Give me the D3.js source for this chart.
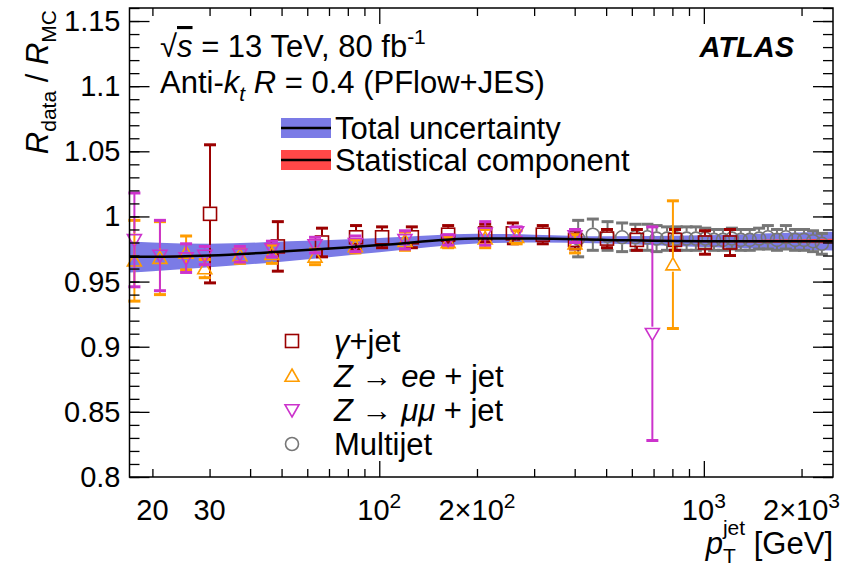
<!DOCTYPE html>
<html>
<head>
<meta charset="utf-8">
<script src="https://cdn.jsdelivr.net/npm/d3@7"></script>
<style>
  body { margin: 0; background: #fff; }
  svg { font-family: "Liberation Sans", Arial, sans-serif; }
</style>
</head>
<body>
<svg width="842" height="568"></svg>
<script>
// Band: fitted calibration curve with total / statistical uncertainty
const bandPt = [17, 20, 30, 50, 100, 200, 300, 500, 1000, 1500, 2500];
const bandCentre = [0.969, 0.969, 0.970, 0.973, 0.978, 0.983, 0.983, 0.982, 0.981, 0.981, 0.981];
const bandTotal = [0.012, 0.011, 0.009, 0.0077, 0.0055, 0.0038, 0.003, 0.0028, 0.0045, 0.0058, 0.0072];
const bandStat = [0.0006, 0.0006, 0.0005, 0.0005, 0.0004, 0.0004, 0.0004, 0.0005, 0.0008, 0.0012, 0.0018];

// gamma + jet
const gjPt = [30.1, 48.7, 66.6, 84.8, 102, 126, 163, 212, 258, 319, 401, 503, 622, 815, 1008, 1204];
const gjVal = [1.002, 0.977, 0.980, 0.984, 0.984, 0.984, 0.986, 0.987, 0.987, 0.986, 0.982, 0.983, 0.982, 0.982, 0.980, 0.980];
const gjErr = [0.053, 0.019, 0.011, 0.009, 0.008, 0.008, 0.007, 0.007, 0.008, 0.007, 0.007, 0.007, 0.008, 0.008, 0.009, 0.010];

// Z -> ee + jet
const zeePt = [17.6, 21.1, 25.4, 29.0, 37.2, 46.7, 63.4, 84.4, 120, 163, 212, 265, 401, 803];
const zeeVal = [0.966, 0.968, 0.972, 0.960, 0.970, 0.971, 0.969, 0.977, 0.981, 0.980, 0.983, 0.984, 0.979, 0.963];
const zeeErr = [0.031, 0.028, 0.013, 0.007, 0.006, 0.007, 0.006, 0.005, 0.007, 0.004, 0.007, 0.005, 0.007, 0.049];

// Z -> mumu + jet
const zmmPt = [17.6, 21.1, 25.4, 29.0, 37.2, 46.7, 63.4, 84.4, 120, 163, 212, 265, 401, 694];
const zmmVal = [0.982, 0.970, 0.968, 0.970, 0.971, 0.975, 0.978, 0.979, 0.982, 0.982, 0.987, 0.988, 0.985, 0.910];
const zmmErr = [0.036, 0.027, 0.011, 0.007, 0.006, 0.006, 0.006, 0.006, 0.007, 0.004, 0.009, 0.004, 0.005, 0.082];

// Multijet
const mjPt = [410, 455, 505, 560, 615, 670, 715, 770, 825, 885, 945, 1010, 1075, 1145, 1220, 1300, 1385, 1480, 1575, 1680, 1790, 1910, 2035, 2170, 2310];
const mjVal = [0.983, 0.986, 0.985, 0.984, 0.984, 0.984, 0.983, 0.983, 0.983, 0.983, 0.983, 0.983, 0.982, 0.982, 0.983, 0.982, 0.982, 0.983, 0.984, 0.982, 0.984, 0.982, 0.982, 0.981, 0.979];
const mjErr = [0.014, 0.012, 0.011, 0.011, 0.010, 0.010, 0.010, 0.009, 0.009, 0.009, 0.009, 0.008, 0.008, 0.008, 0.008, 0.008, 0.008, 0.008, 0.009, 0.008, 0.009, 0.008, 0.008, 0.008, 0.008];

// Axis ticks
const xTickVals = [20, 30, 100, 200, 1000, 2000];
const xTickLabels = [["20", ""], ["30", ""], ["10", "2"], ["2\u00d710", "2"], ["10", "3"], ["2\u00d710", "3"]];
const yTickVals = [0.8, 0.85, 0.9, 0.95, 1.0, 1.05, 1.1, 1.15];
const yTickLabels = ["0.8", "0.85", "0.9", "0.95", "1", "1.05", "1.1", "1.15"];

const svg = d3.select("svg");
const plotL = 129.5, plotR = 833, plotT = 8, plotB = 477;
const x = d3.scaleLog().domain([17, 2500]).range([plotL, plotR]);
const y = d3.scaleLinear().domain([0.8, 1.16]).range([plotB, plotT]);

const fs = 31, fsTick = 29, fsSub = 21;

// bands
const idx = d3.range(bandPt.length);
svg.append("path")
    .attr("d", d3.area().curve(d3.curveMonotoneX)
        .x(i => x(bandPt[i])).y0(i => y(bandCentre[i] - bandTotal[i])).y1(i => y(bandCentre[i] + bandTotal[i]))(idx))
    .attr("fill", "#7b7be6");
svg.append("path")
    .attr("d", d3.area().curve(d3.curveMonotoneX)
        .x(i => x(bandPt[i])).y0(i => y(bandCentre[i] - bandStat[i])).y1(i => y(bandCentre[i] + bandStat[i]))(idx))
    .attr("fill", "#ff4848");

// data points
function drawSeries(pts, vals, errs, color, shape) {
    const g = svg.append("g").attr("stroke", color).attr("fill", "none").attr("stroke-width", 2);
    const half = 7;
    pts.forEach((p, i) => {
        const cx = x(p), cy = y(vals[i]);
        const yHi = y(vals[i] + errs[i]), yLo = y(vals[i] - errs[i]);
        if (yHi < cy - half) g.append("line").attr("x1", cx).attr("x2", cx).attr("y1", yHi).attr("y2", cy - half);
        if (yLo > cy + half) g.append("line").attr("x1", cx).attr("x2", cx).attr("y1", cy + half).attr("y2", yLo);
        g.append("line").attr("x1", cx - 6).attr("x2", cx + 6).attr("y1", yHi).attr("y2", yHi).attr("stroke-width", 3);
        g.append("line").attr("x1", cx - 6).attr("x2", cx + 6).attr("y1", yLo).attr("y2", yLo).attr("stroke-width", 3);
        drawMarker(g, cx, cy, shape).attr("stroke-width", 1.6);
    });
}
function drawMarker(g, cx, cy, shape) {
    if (shape === "square") return g.append("rect").attr("x", cx - 6.5).attr("y", cy - 6.5).attr("width", 13).attr("height", 13);
    if (shape === "circle") return g.append("circle").attr("cx", cx).attr("cy", cy).attr("r", 6.5);
    const s = 7;
    const pts = shape === "up"
        ? [[cx, cy - s], [cx + s, cy + s * 0.75], [cx - s, cy + s * 0.75]]
        : [[cx, cy + s], [cx + s, cy - s * 0.75], [cx - s, cy - s * 0.75]];
    return g.append("path").attr("d", "M" + pts.join("L") + "Z");
}

drawSeries(mjPt, mjVal, mjErr, "#767676", "circle");
drawSeries(gjPt, gjVal, gjErr, "#9b0000", "square");
drawSeries(zeePt, zeeVal, zeeErr, "#ff9c00", "up");
drawSeries(zmmPt, zmmVal, zmmErr, "#cc33cc", "down");

// central curve
svg.append("path")
    .attr("d", d3.line().curve(d3.curveMonotoneX).x(i => x(bandPt[i])).y(i => y(bandCentre[i]))(idx))
    .attr("fill", "none").attr("stroke", "#000").attr("stroke-width", 2.5);

// frame and ticks
const minorX = [];
[10, 100, 1000].forEach(dec => d3.range(1, 10).forEach(k => {
    const v = dec * k;
    if (v >= 17 && v <= 2500 && k !== 1) minorX.push(v);
}));
const majorX = [100, 1000];
const minorY = d3.range(80, 117).map(v => v / 100);

const ax = svg.append("g");
ax.append("g").attr("transform", `translate(0,${plotB})`)
    .call(d3.axisBottom(x).tickValues(minorX).tickSize(-8).tickFormat(""));
ax.append("g").attr("transform", `translate(0,${plotB})`)
    .call(d3.axisBottom(x).tickValues(majorX).tickSize(-16).tickFormat(""));
ax.append("g").attr("transform", `translate(0,${plotT})`)
    .call(d3.axisTop(x).tickValues(minorX).tickSize(-8).tickFormat(""));
ax.append("g").attr("transform", `translate(0,${plotT})`)
    .call(d3.axisTop(x).tickValues(majorX).tickSize(-16).tickFormat(""));
ax.append("g").attr("transform", `translate(${plotL},0)`)
    .call(d3.axisLeft(y).tickValues(minorY).tickSize(-10).tickFormat(""));
ax.append("g").attr("transform", `translate(${plotL},0)`)
    .call(d3.axisLeft(y).tickValues(yTickVals).tickSize(-20).tickFormat(""));
ax.append("g").attr("transform", `translate(${plotR},0)`)
    .call(d3.axisRight(y).tickValues(minorY).tickSize(-10).tickFormat(""));
ax.append("g").attr("transform", `translate(${plotR},0)`)
    .call(d3.axisRight(y).tickValues(yTickVals).tickSize(-20).tickFormat(""));
svg.selectAll(".domain").remove();
svg.selectAll(".tick line").attr("stroke", "#000").attr("stroke-width", 1.3);
svg.append("rect").attr("x", plotL).attr("y", plotT).attr("width", plotR - plotL).attr("height", plotB - plotT)
    .attr("fill", "none").attr("stroke", "#000").attr("stroke-width", 1.5);

// tick labels
yTickVals.forEach((v, i) => {
    svg.append("text").attr("x", plotL - 9).attr("y", y(v) + 10).attr("text-anchor", "end")
        .attr("font-size", fsTick).text(yTickLabels[i]);
});
xTickVals.forEach((v, i) => {
    const t = svg.append("text").attr("x", x(v)).attr("y", 520).attr("text-anchor", "middle").attr("font-size", fsTick);
    t.append("tspan").text(xTickLabels[i][0]);
    if (xTickLabels[i][1]) t.append("tspan").attr("dy", -12).attr("font-size", fsSub).text(xTickLabels[i][1]);
});

// axis titles
const xt = svg.append("text").attr("x", plotR).attr("y", 554).attr("text-anchor", "end").attr("font-size", fs);
xt.append("tspan").attr("font-style", "italic").text("p");
xt.append("tspan").attr("dy", 9).attr("font-size", fsSub).text("T");
xt.append("tspan").attr("dx", -13).attr("dy", -28).attr("font-size", fsSub).text("jet");
xt.append("tspan").attr("dy", 19).text(" [GeV]");

const yt = svg.append("text").attr("transform", `translate(48,${plotT + 2}) rotate(-90)`)
    .attr("text-anchor", "end").attr("font-size", fs);
yt.append("tspan").attr("font-style", "italic").text("R");
yt.append("tspan").attr("dy", 8).attr("font-size", fsSub).text("data");
yt.append("tspan").attr("dy", -8).text(" / ");
yt.append("tspan").attr("font-style", "italic").text("R");
yt.append("tspan").attr("dy", 8).attr("font-size", fsSub).text("MC");

// header text
const t1 = svg.append("text").attr("x", 160).attr("y", 57).attr("font-size", fs);
t1.append("tspan").text("\u221a");
t1.append("tspan").attr("font-style", "italic").attr("text-decoration", "overline").text("s");
t1.append("tspan").text(" = 13 TeV, 80 fb");
t1.append("tspan").attr("dy", -13).attr("font-size", fsSub).text("-1");
const t2 = svg.append("text").attr("x", 160).attr("y", 93).attr("font-size", fs);
t2.append("tspan").text("Anti-");
t2.append("tspan").attr("font-style", "italic").text("k");
t2.append("tspan").attr("dy", 8).attr("font-size", fsSub).attr("font-style", "italic").text("t");
t2.append("tspan").attr("dy", -8).text(" ");
t2.append("tspan").attr("font-style", "italic").text("R");
t2.append("tspan").text(" = 0.4 (PFlow+JES)");
svg.append("text").attr("x", 794).attr("y", 57).attr("text-anchor", "end").attr("font-size", 29)
    .attr("font-weight", "bold").attr("font-style", "italic").text("ATLAS");

// band legend
const bandLeg = [["Total uncertainty", "#7b7be6", 128], ["Statistical component", "#ff4848", 160]];
bandLeg.forEach(([label, col, cy]) => {
    svg.append("rect").attr("x", 281).attr("y", cy - 10).attr("width", 50).attr("height", 20).attr("fill", col);
    svg.append("line").attr("x1", 281).attr("x2", 331).attr("y1", cy).attr("y2", cy).attr("stroke", "#000").attr("stroke-width", 2.5);
    svg.append("text").attr("x", 335).attr("y", cy + 11).attr("font-size", fs).text(label);
});

// marker legend
const markLeg = [
    ["square", "#9b0000", 341, [["\u03b3", "i"], ["+jet", ""]]],
    ["up", "#ff9c00", 376, [["Z", "i"], [" \u2192 ", ""], ["ee", "i"], [" + jet", ""]]],
    ["down", "#cc33cc", 410, [["Z", "i"], [" \u2192 ", ""], ["\u03bc\u03bc", "i"], [" + jet", ""]]],
    ["circle", "#767676", 444, [["Multijet", ""]]]
];
markLeg.forEach(([shape, col, cy, parts]) => {
    const g = svg.append("g").attr("stroke", col).attr("fill", "none").attr("stroke-width", 1.6);
    drawMarker(g, 292, cy, shape);
    const t = svg.append("text").attr("x", 334).attr("y", cy + 11).attr("font-size", fs);
    parts.forEach(([s, st]) => t.append("tspan").attr("font-style", st ? "italic" : "normal").text(s));
});
</script>
</body>
</html>
